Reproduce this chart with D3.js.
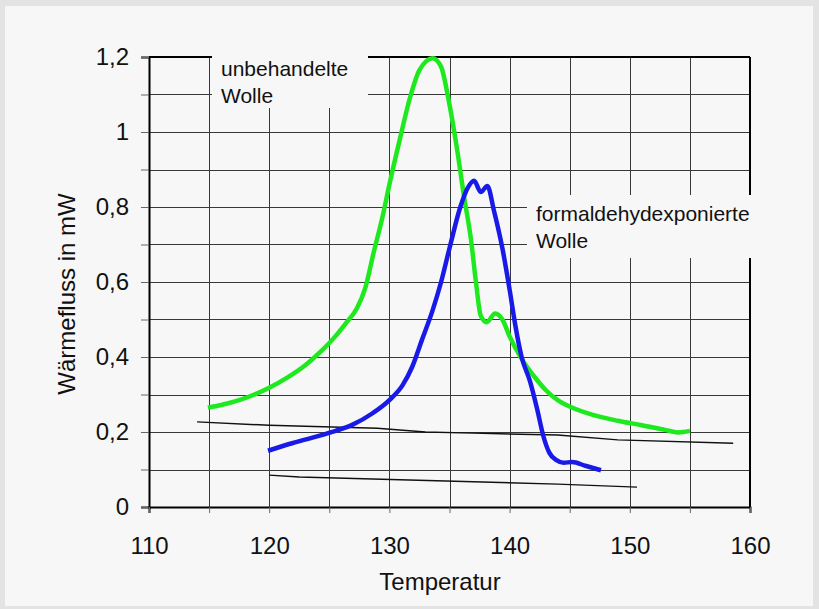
<!DOCTYPE html>
<html>
<head>
<meta charset="utf-8">
<script src="https://cdn.jsdelivr.net/npm/d3@7"></script>
<style>
  body { margin: 0; background: #e3e3e3; }
  svg { display: block; font-family: "Liberation Sans", Arial, sans-serif; }
</style>
</head>
<body>
<svg id="viz" width="819" height="609"></svg>
<script>
// ----------------------- DATA
// unbehandelte Wolle (green)
const tempUntreated = [114.9, 116, 117.5, 119, 120, 121.5, 123, 124.3, 125.5, 126.5, 127.3, 128, 128.7, 129.4, 130, 130.9, 131.7, 132.5, 133.6, 134.3, 134.9, 135.6, 136.2, 136.8, 137.2, 137.6, 138.1, 138.8, 139.4, 140, 141, 142, 143, 144, 145, 147, 149, 151, 153, 154, 155];
const flowUntreated = [0.265, 0.272, 0.285, 0.303, 0.318, 0.345, 0.378, 0.415, 0.455, 0.495, 0.53, 0.585, 0.68, 0.77, 0.86, 0.985, 1.09, 1.165, 1.197, 1.174, 1.09, 0.96, 0.83, 0.71, 0.60, 0.51, 0.493, 0.516, 0.50, 0.455, 0.395, 0.35, 0.312, 0.285, 0.268, 0.245, 0.23, 0.218, 0.205, 0.199, 0.203];

// formaldehydexponierte Wolle (blue)
const tempExposed = [119.9, 121.9, 124.9, 126.9, 128.6, 130, 131.1, 131.9, 132.7, 133.6, 134.3, 135, 135.9, 136.5, 137.05, 137.6, 138.15, 138.7, 139.4, 140, 140.5, 141, 141.7, 142.3, 142.8, 143.3, 143.9, 144.5, 145.2, 146.3, 147.6];
const flowExposed = [0.15, 0.17, 0.197, 0.219, 0.25, 0.285, 0.325, 0.374, 0.445, 0.525, 0.60, 0.69, 0.80, 0.85, 0.87, 0.84, 0.856, 0.79, 0.69, 0.58, 0.48, 0.40, 0.335, 0.26, 0.19, 0.145, 0.125, 0.118, 0.12, 0.11, 0.098];

// baselines (thin black)
const tempBaseUpper = [114, 120, 129, 133, 137, 144, 149, 158.6];
const flowBaseUpper = [0.227, 0.218, 0.21, 0.2, 0.197, 0.192, 0.179, 0.17];
const tempBaseLower = [120, 122.5, 144, 150.6];
const flowBaseLower = [0.085, 0.08, 0.061, 0.053];

const xTicks = [110, 115, 120, 125, 130, 135, 140, 145, 150, 155, 160];
const xLabelled = [110, 120, 130, 140, 150, 160];
const yTicks = [0, 0.1, 0.2, 0.3, 0.4, 0.5, 0.6, 0.7, 0.8, 0.9, 1, 1.1, 1.2];
const yLabelled = [0, 0.2, 0.4, 0.6, 0.8, 1, 1.2];

// ----------------------- SETTINGS
const panelBg = '#f7f7f7';
const svg = d3.select('#viz');

svg.append('rect')
  .attr('x', 5).attr('y', 6)
  .attr('width', 808).attr('height', 600)
  .attr('fill', panelBg);

const x = d3.scaleLinear().domain([110, 160]).range([149, 750]);
const y = d3.scaleLinear().domain([0, 1.2]).range([507, 57]);

const de = d3.formatLocale({ decimal: ',', thousands: '.', grouping: [3], currency: ['', ' €'] });
const fmt = de.format('~g');

// ----------------------- GRID
const grid = svg.append('g').attr('stroke', '#383838').attr('stroke-width', 1);

grid.selectAll('.vgrid')
  .data(xTicks.slice(1, -1))
  .enter().append('line')
  .attr('x1', d => Math.round(x(d)) + 0.5).attr('x2', d => Math.round(x(d)) + 0.5)
  .attr('y1', y(1.2)).attr('y2', y(0));

grid.selectAll('.hgrid')
  .data(yTicks.slice(1, -1))
  .enter().append('line')
  .attr('x1', x(110)).attr('x2', x(160))
  .attr('y1', d => Math.round(y(d)) + 0.5).attr('y2', d => Math.round(y(d)) + 0.5);

// frame (top / right)
svg.append('line')
  .attr('x1', x(110)).attr('x2', x(160))
  .attr('y1', y(1.2)).attr('y2', y(1.2))
  .attr('stroke', '#000').attr('stroke-width', 2);
svg.append('line')
  .attr('x1', x(160)).attr('x2', x(160))
  .attr('y1', y(1.2)).attr('y2', y(0))
  .attr('stroke', '#000').attr('stroke-width', 2);

// ----------------------- AXES
const isIn = (arr, d) => arr.some(v => Math.abs(v - d) < 1e-9);

const yAxis = d3.axisLeft(y)
  .tickValues(yTicks)
  .tickSize(8)
  .tickPadding(12)
  .tickFormat(d => isIn(yLabelled, d) ? fmt(d) : '');

const xAxis = d3.axisBottom(x)
  .tickValues(xTicks)
  .tickSize(6)
  .tickPadding(24)
  .tickFormat(d => isIn(xLabelled, d) ? d : '');

const gy = svg.append('g')
  .attr('transform', `translate(${x(110)}, 0)`)
  .call(yAxis);
const gx = svg.append('g')
  .attr('transform', `translate(0, ${y(0)})`)
  .call(xAxis);

[gx, gy].forEach(g => {
  g.select('.domain').attr('stroke', '#000').attr('stroke-width', 2);
  g.selectAll('.tick line').attr('stroke', '#666');
  g.selectAll('.tick text')
    .attr('fill', '#111')
    .style('font-size', '24px')
    .style('font-family', '"Liberation Sans", Arial, sans-serif');
});

// axis titles
svg.append('text')
  .attr('x', 440).attr('y', 590)
  .attr('text-anchor', 'middle')
  .attr('fill', '#111')
  .style('font-size', '24px')
  .text('Temperatur');

svg.append('text')
  .attr('transform', 'translate(75, 294) rotate(-90)')
  .attr('text-anchor', 'middle')
  .attr('fill', '#111')
  .style('font-size', '24px')
  .text('Wärmefluss in mW');

// ----------------------- LABEL BOXES
const labels = [
  { x: 212, y: 50, w: 156, h: 58, lines: ['unbehandelte', 'Wolle'] },
  { x: 527, y: 195, w: 230, h: 63, lines: ['formaldehydexponierte', 'Wolle'] }
];
labels.forEach(l => {
  svg.append('rect')
    .attr('x', l.x).attr('y', l.y)
    .attr('width', l.w).attr('height', l.h)
    .attr('fill', panelBg);
  svg.append('text')
    .attr('fill', '#111')
    .style('font-size', '21px')
    .selectAll('tspan')
    .data(l.lines)
    .enter().append('tspan')
    .attr('x', l.x + 9)
    .attr('y', (d, i) => l.y + 26 + i * 27)
    .text(d => d);
});

// ----------------------- CURVES
const line = d3.line()
  .x(d => x(d[0]))
  .y(d => y(d[1]))
  .curve(d3.curveMonotoneX);
const straight = d3.line()
  .x(d => x(d[0]))
  .y(d => y(d[1]));

svg.append('path')
  .datum(d3.zip(tempBaseUpper, flowBaseUpper))
  .attr('d', straight)
  .attr('fill', 'none').attr('stroke', '#111').attr('stroke-width', 1.5);

svg.append('path')
  .datum(d3.zip(tempBaseLower, flowBaseLower))
  .attr('d', straight)
  .attr('fill', 'none').attr('stroke', '#111').attr('stroke-width', 1.5);

svg.append('path')
  .datum(d3.zip(tempUntreated, flowUntreated))
  .attr('d', line)
  .attr('fill', 'none').attr('stroke', '#1ee81e').attr('stroke-width', 4.5)
  .attr('stroke-linejoin', 'round');

svg.append('path')
  .datum(d3.zip(tempExposed, flowExposed))
  .attr('d', line)
  .attr('fill', 'none').attr('stroke', '#1a1ae8').attr('stroke-width', 4.5)
  .attr('stroke-linejoin', 'round');
</script>
</body>
</html>
